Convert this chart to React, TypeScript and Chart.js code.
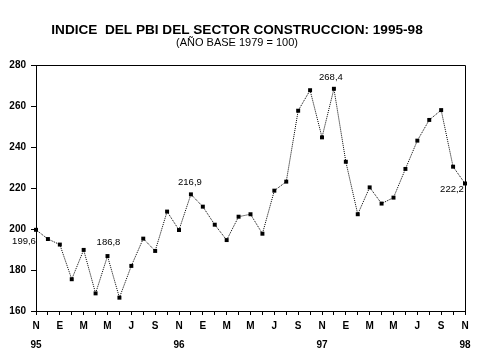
import React, { useEffect, useRef } from "react";
import { Chart, registerables } from "chart.js";

Chart.register(...registerables);

const monthLetters = ["N", "D", "E", "F", "M", "A", "M", "J", "J", "A", "S", "O", "N", "D", "E", "F", "M", "A", "M", "J", "J", "A", "S", "O", "N", "D", "E", "F", "M", "A", "M", "J", "J", "A", "S", "O", "N"];
const yearLabels: Record<number, string> = { 0: "95", 12: "96", 24: "97", 36: "98" };
const indexValues = [
  199.6, 195.1, 192.4, 175.5, 189.8, 168.6, 186.8, 166.5, 182.0, 195.3, 189.3, 208.5,
  199.5, 216.9, 210.9, 202.1, 194.6, 206.0, 207.2, 197.7, 218.7, 223.1, 257.7, 267.7,
  244.7, 268.4, 232.8, 207.2, 220.3, 212.4, 215.3, 229.3, 243.1, 253.2, 258.0, 230.4,
  222.2,
];
const annotatedPoints = [
  { index: 0, text: "199,6", dx: -12, dy: 12 },
  { index: 6, text: "186,8", dx: 1, dy: -14 },
  { index: 13, text: "216,9", dx: -1, dy: -12 },
  { index: 25, text: "268,4", dx: -3, dy: -11 },
  { index: 36, text: "222,2", dx: -13, dy: 6 },
];
const titleText = "INDICE  DEL PBI DEL SECTOR CONSTRUCCION: 1995-98";
const subtitleText = "(AÑO BASE 1979 = 100)";

export default function App() {
  const canvasRef = useRef<HTMLCanvasElement | null>(null);

  useEffect(() => {
    if (!canvasRef.current) return;
    const decorPlugin = {
      id: "decor",
      afterDraw(chart: any) {
        const ctx = chart.ctx;
        const area = chart.chartArea;
        ctx.save();
        ctx.strokeStyle = "#000";
        ctx.lineWidth = 1;
        ctx.beginPath();
        ctx.moveTo(area.left, area.top + 0.5);
        ctx.lineTo(area.right + 0.5, area.top + 0.5);
        ctx.lineTo(area.right + 0.5, area.bottom);
        ctx.stroke();
        ctx.fillStyle = "#000";
        ctx.textAlign = "center";
        ctx.textBaseline = "middle";
        ctx.font = "bold 13.6px Arial";
        ctx.fillText(titleText, 237, 30);
        ctx.font = "11px Arial";
        ctx.fillText(subtitleText, 237, 42.5);
        const meta = chart.getDatasetMeta(0);
        ctx.font = "9.5px Arial";
        for (const a of annotatedPoints) {
          const p = meta.data[a.index];
          if (!p) continue;
          ctx.fillText(a.text, p.x + a.dx, p.y + a.dy);
        }
        ctx.restore();
      },
    };

    const chart = new Chart(canvasRef.current, {
      type: "line",
      data: {
        labels: monthLetters,
        datasets: [
          {
            data: indexValues,
            borderColor: "#000",
            backgroundColor: "#000",
            borderWidth: 1,
            borderDash: [1, 1],
            pointStyle: "rect",
            pointRadius: 2.8,
            pointBackgroundColor: "#000",
            pointBorderWidth: 0,
            tension: 0,
            fill: false,
          },
        ],
      },
      options: {
        responsive: false,
        animation: false,
        devicePixelRatio: 1,
        layout: { padding: { left: 0, right: 14, top: 65, bottom: 0 } },
        plugins: {
          legend: { display: false },
          title: { display: false },
          tooltip: { enabled: false },
        },
        scales: {
          x: {
            type: "category",
            offset: false,
            afterFit(scale: any) {
              scale.height = 48;
            },
            grid: {
              display: true,
              drawOnChartArea: false,
              drawTicks: true,
              tickLength: 4,
              color: "#000",
            },
            border: { display: true, color: "#000", width: 1 },
            ticks: {
              autoSkip: false,
              maxRotation: 0,
              minRotation: 0,
              padding: 2,
              color: "#000",
              font: { family: "Arial", weight: "bold", size: 10, lineHeight: 1.85 },
              callback(_v: any, i: number) {
                if (i % 2 !== 0) return "";
                const yl = yearLabels[i];
                return yl ? [monthLetters[i], yl] : monthLetters[i];
              },
            },
          },
          y: {
            min: 160,
            max: 280,
            afterFit(scale: any) {
              scale.width = 36;
            },
            grid: {
              display: true,
              drawOnChartArea: false,
              drawTicks: true,
              tickLength: 5,
              color: "#000",
            },
            border: { display: true, color: "#000", width: 1 },
            ticks: {
              stepSize: 20,
              padding: 5,
              color: "#000",
              font: { family: "Arial", weight: "bold", size: 10 },
            },
          },
        },
      },
      plugins: [decorPlugin],
    });
    return () => chart.destroy();
  }, []);

  return (
    <div style={{ position: "fixed", left: 0, top: 0, width: 479, height: 359, background: "#fff" }}>
      <canvas ref={canvasRef} width={479} height={359} />
    </div>
  );
}
